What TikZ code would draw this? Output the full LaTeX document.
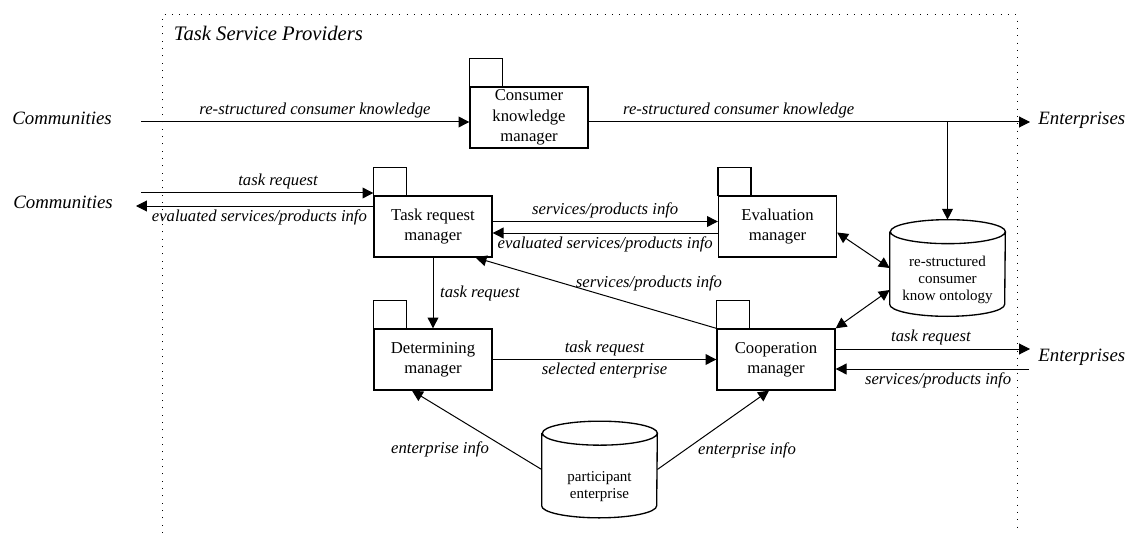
\documentclass[tikz,border=0pt]{standalone}
\usepackage{fontspec}
\setmainfont{Liberation Serif}
\usetikzlibrary{arrows.meta}

\tikzset{
  mgr/.style={draw, line width=0.8pt, minimum width=70.8pt, minimum height=36.6pt, inner sep=1pt, align=center, font=\fontsize{10}{12.2}\selectfont},
  store/.style={minimum width=69pt, minimum height=57.6pt, inner sep=0pt},
  storetext/.style={align=center, font=\fontsize{9}{10}\selectfont},
  lbl/.style={font=\fontsize{10}{12}\selectfont\itshape, inner sep=2pt},
  actor/.style={font=\fontsize{11.3}{13}\selectfont\itshape, inner sep=0pt},
  flow/.style={line width=0.6pt, -{Triangle[length=6.5pt,width=6.5pt]}},
  both/.style={line width=0.6pt, {Triangle[length=6.5pt,width=6.5pt]}-{Triangle[length=6.5pt,width=6.5pt]}},
}

\begin{document}
\begin{tikzpicture}[x=0.6pt,y=-0.6pt]
\useasboundingbox (0,0) rectangle (1126,536);
% provider frame, open at the bottom
\draw[dash pattern=on 0.6pt off 3.8pt, line width=0.6pt] (162,533) -- (162,15) -- (1017,15) -- (1017,533);
\node[anchor=west, font=\fontsize{12.4}{14}\selectfont\itshape] (tsp) at (168,33) {Task Service Providers};

% outside parties
\node[actor] (comA) at (62,118) {Communities};
\node[actor] (comB) at (63,202) {Communities};
\node[actor, anchor=west] (entA) at (1038,120) {Enterprises};
\node[actor, anchor=west] (entB) at (1038,357) {Enterprises};
\coordinate (inA) at (141,122);
\coordinate (inB) at (141,193);
\coordinate (outB) at (136,206);
\coordinate (toA) at (1030,122);
\coordinate (toB) at (1030,349);
\coordinate (fromB) at (1029,369);

% managers
\node[mgr] (ckm) at (529,117.5) {Consumer\\knowledge\\manager};
\node[mgr] (trm) at (433,226.5) {Task request\\manager};
\node[mgr] (evm) at (777.5,226.5) {Evaluation\\manager};
\node[mgr] (dtm) at (433,359.5) {Determining\\manager};
\node[mgr] (cpm) at (776,359.5) {Cooperation\\manager};
\foreach \m in {ckm,trm,evm,dtm,cpm}
  \draw[line width=0.8pt] (\m.north west) rectangle ++(33,-28);

% stores
\node[store, label={[storetext, yshift=-7.2pt]center:re-structured\\consumer\\know ontology}] (ont) at (947.5,268) {};
\node[store, label={[storetext, yshift=-10.2pt]center:participant\\enterprise}] (pte) at (599.5,469.5) {};
\foreach \s in {ont,pte}
  \draw[line width=0.8pt] ([yshift=-7.2pt]\s.north west) -- ([yshift=7.2pt]\s.south west)
    arc[start angle=180, end angle=360, x radius=34.5pt, y radius=7.2pt]
    -- ([yshift=-7.2pt]\s.north east)
    arc[start angle=0, end angle=360, x radius=34.5pt, y radius=7.2pt];

% flows
\draw[flow] (inA) -- (ckm.west |- inA) node[lbl, above, pos=0.53] {re-structured consumer knowledge};
\draw[flow] (ckm.east |- inA) -- (toA) node[lbl, above, pos=0.34] {re-structured consumer knowledge};
\draw[flow] (ont.north |- inA) -- (ont.north);
\draw[flow] (inB) -- (trm.north west |- inB) node[lbl, above, pos=0.59] {task request};
\draw[flow] (trm.west |- outB) -- (outB) node[lbl, below, pos=0.48] {evaluated services/products info};
\draw[flow] ([yshift=3pt]trm.east) -- ([yshift=3pt]evm.west) node[lbl, above, midway] {services/products info};
\draw[flow] ([yshift=-3.9pt]evm.west) -- ([yshift=-3.9pt]trm.east) node[lbl, below, midway] {evaluated services/products info};
\draw[both] ([yshift=-3.6pt]evm.east) -- (ont.west);
\draw[flow] (trm.south) -- (dtm.north) node[lbl, right, midway, xshift=2pt] {task request};
\draw[flow] (dtm.east) -- (cpm.west) node[lbl, above, midway] {task request} node[lbl, below, midway] {selected enterprise};
\draw[flow] (cpm.north west) -- ([xshift=-10.2pt]trm.south east);
\node[lbl] at (649,283) {services/products info};
\draw[both] (cpm.north east) -- ([yshift=-13.2pt]ont.west);
\draw[flow] (cpm.east |- toB) -- (toB) node[lbl, above, pos=0.49] {task request};
\draw[flow] (fromB) -- (cpm.east |- fromB) node[lbl, below, pos=0.47] {services/products info};
\draw[flow] (pte.west) -- ([xshift=-12.6pt]dtm.south);
\draw[flow] (pte.east) -- ([xshift=-4.2pt]cpm.south);
\node[lbl] at (440,449) {enterprise info};
\node[lbl] at (747,450) {enterprise info};
\end{tikzpicture}
\end{document}
